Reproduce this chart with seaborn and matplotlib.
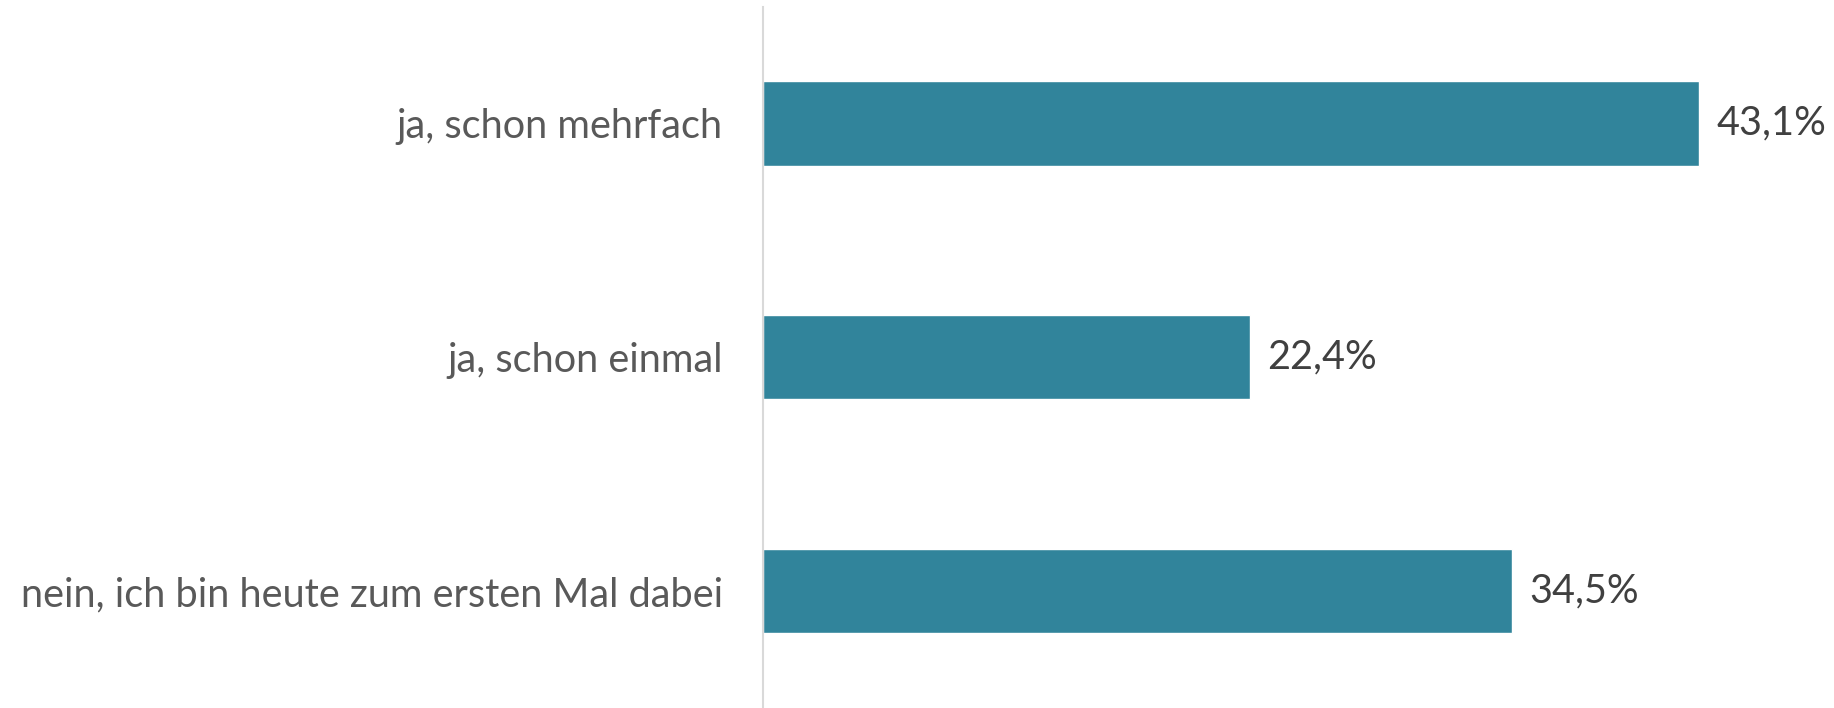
import matplotlib
matplotlib.use("Agg")
import matplotlib.pyplot as plt
import seaborn as sns
import pandas as pd

categories = ["ja, schon mehrfach", "ja, schon einmal", "nein, ich bin heute zum ersten Mal dabei"]
values = [43.1, 22.4, 34.5]

df = pd.DataFrame({"Kategorie": categories, "Anteil": values})

sns.set_theme(style="white")
plt.rcParams["font.family"] = ["Lato", "DejaVu Sans"]

fig = plt.figure(figsize=(18.34, 7.08), dpi=100)
ax = fig.add_axes([763 / 1834, 0.0, 1 - 763 / 1834, 1 - 6.5 / 708])

sns.barplot(data=df, x="Anteil", y="Kategorie", color="#31849B", width=0.36,
            saturation=1, ax=ax, orient="h")

ax.set_xlim(0, (1834 - 763) / 21.72)
ax.set_ylim(2.5, -0.5)
ax.set_xlabel("")
ax.set_ylabel("")
ax.set_xticks([])

for s in ["top", "right", "bottom"]:
    ax.spines[s].set_visible(False)
ax.spines["left"].set_color("#D9D9D9")
ax.spines["left"].set_linewidth(1.5)

ax.tick_params(axis="y", length=0, pad=29, labelsize=28.6, labelcolor="#595959")

ax.bar_label(ax.containers[0], labels=[f"{v:.1f}%".replace(".", ",") for v in values],
             padding=12.5, fontsize=28.5, color="#404040")

fig.savefig("out.png", dpi=100, facecolor="white")
